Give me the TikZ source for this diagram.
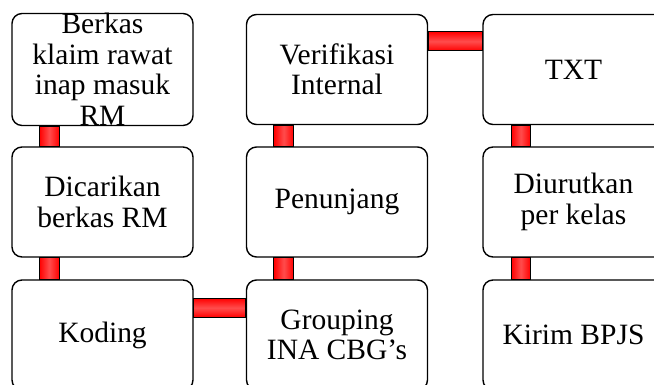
\documentclass[tikz,border=0pt]{standalone}
\usepackage{fontspec}
\setmainfont{Liberation Serif}
\usetikzlibrary{calc}
\tikzset{
  box/.style={draw=black, line width=1.4pt, rounded corners=10pt, fill=white,
    minimum width=181pt, minimum height=110pt, inner sep=0pt, align=center,
    font=\fontsize{29.5}{30.5}\selectfont},
  vbar/.style={draw=black, line width=1.2pt, left color=red, right color=red, middle color=red!70!white},
  hbar/.style={draw=black, line width=1.2pt, top color=red, bottom color=red, middle color=red!70!white}
}
\begin{document}
\begin{tikzpicture}[x=1pt,y=1pt]
\useasboundingbox (0,0) rectangle (654,385);
\clip (0,0) rectangle (654,385);
\node[box] (a) at (102.5,315.5) {Berkas\\klaim rawat\\inap masuk\\RM};
\node[box] (b) at (102.5,183) {Dicarikan\\berkas RM};
\node[box] (c) at (102.5,50) {Koding};
\node[box] (d) at (337,50) {Grouping\\INA CBG's};
\node[box] (e) at (337,183) {Penunjang};
\node[box] (f) at (337,315.5) {Verifikasi\\Internal};
\node[box] (g) at (573.5,315.5) {TXT};
\node[box] (h) at (573.5,183) {Diurutkan\\per kelas};
\node[box] (i) at (573.5,50) {Kirim BPJS};
% vertical connectors
\path[vbar] ($(a.south west)+(28,0)$) rectangle ($(b.north west)+(48,0)$);
\path[vbar] ($(b.south west)+(28,0)$) rectangle ($(c.north west)+(48,0)$);
\path[vbar] ($(d.north west)+(28,0)$) rectangle ($(e.south west)+(48,0)$);
\path[vbar] ($(e.north west)+(28,0)$) rectangle ($(f.south west)+(48,0)$);
\path[vbar] ($(g.south west)+(29,0)$) rectangle ($(h.north west)+(48,0)$);
\path[vbar] ($(h.south west)+(29,0)$) rectangle ($(i.north west)+(48,0)$);
% horizontal connectors
\path[hbar] ($(c.north east)+(0,-19)$) rectangle ($(d.north west)+(0,-38)$);
\path[hbar] ($(f.north east)+(0,-18)$) rectangle ($(g.north west)+(0,-37)$);
\end{tikzpicture}
\end{document}
